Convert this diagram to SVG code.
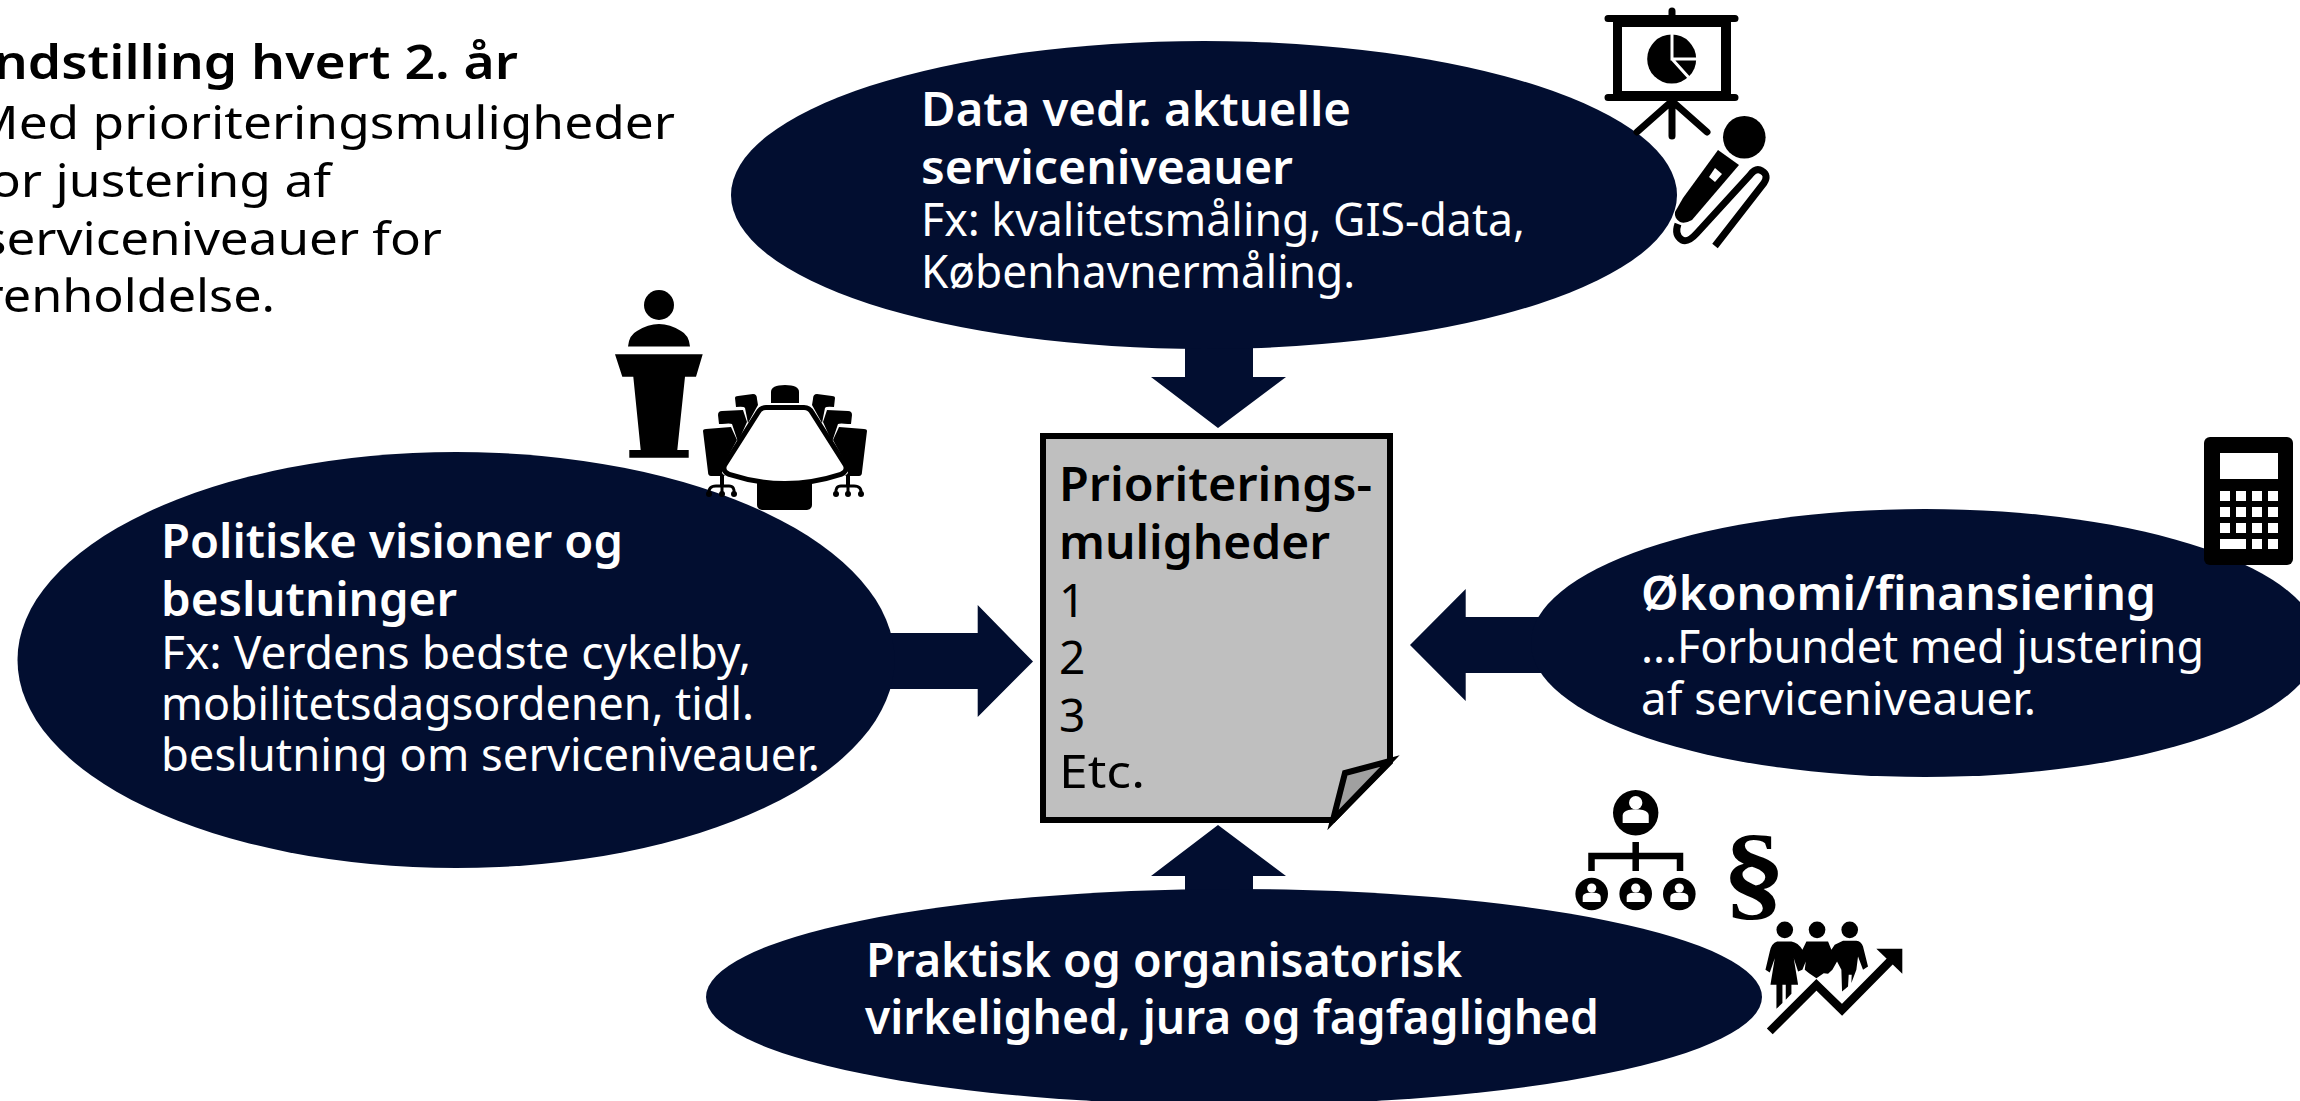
<svg xmlns="http://www.w3.org/2000/svg" xmlns:xlink="http://www.w3.org/1999/xlink" width="2300" height="1101" viewBox="0 0 2300 1101">
<style>
text{font-family:"Noto Sans","Lato","Liberation Sans",sans-serif;font-size:46px;font-weight:400;font-variant-ligatures:none}
.b{font-weight:600}
.w{fill:#fff}
.k{fill:#000}
.navy{fill:#020e30}
.ln{fill:none;stroke:#000;stroke-linecap:round}
</style>
<defs>
<g id="person"><circle cx="0" cy="-5" r="4.6" fill="#fff"/><path d="M-9 9V4Q-9 1-5 0Q0-1 5 0Q9 1 9 4V9Z" fill="#fff"/></g>
<g id="chairs">
<path d="M703 431Q703 429 706 429L731 427L737 440L725 462L722 473L725 476H711Q708 476 708 472Z"/>
<path d="M718 415Q718 411 722 411L743 410L747 422L738 442L732 424Q730 423 722 424L719 424Z"/>
<path d="M735 398Q735 396 738 396L753 394Q757 394 757 399L758 405L748 423L745 408Q744 406 736 407Z"/>
<path d="M722 475V486" stroke="#000" stroke-width="4" fill="none"/>
<path d="M709 494Q708 486 716 486H729Q735 486 734 494M722 486V494" stroke="#000" stroke-width="3" fill="none"/>
<circle cx="709" cy="494" r="3"/><circle cx="722" cy="494" r="3"/><circle cx="734" cy="494" r="3"/>
</g>
</defs>

<g id="connectors" class="navy">
<path d="M1185 345V377H1151L1218 428L1286 377H1253V345Z"/>
<path d="M880 633H977.700V605L1033 661.500L977.700 717V689H880Z"/>
<path d="M1550 617H1465.700V589L1410 645L1465.700 701V673H1550Z"/>
<path d="M1185 900V876H1151L1218 825L1286 876H1253V900Z"/>
</g>

<g id="node-recommendation">
<text class="b" x="-26" y="79" textLength="544" lengthAdjust="spacingAndGlyphs">Indstilling hvert 2. år</text>
<text x="-28" y="139" textLength="703" lengthAdjust="spacingAndGlyphs">Med prioriteringsmuligheder</text>
<text x="-28" y="197" textLength="359" lengthAdjust="spacingAndGlyphs">for justering af</text>
<text x="-18" y="255" textLength="460" lengthAdjust="spacingAndGlyphs">serviceniveauer for</text>
<text x="-17" y="312" textLength="292" lengthAdjust="spacingAndGlyphs">renholdelse.</text>
</g>

<g id="node-data">
<ellipse class="navy" cx="1204" cy="195" rx="473" ry="154"/>
<text class="w b" x="921" y="126" textLength="430" lengthAdjust="spacingAndGlyphs">Data vedr. aktuelle</text>
<text class="w b" x="921" y="184" textLength="372" lengthAdjust="spacingAndGlyphs">serviceniveauer</text>
<text class="w" x="921" y="235.500" textLength="604" lengthAdjust="spacingAndGlyphs">Fx: kvalitetsmåling, GIS-data,</text>
<text class="w" x="921" y="288" textLength="434" lengthAdjust="spacingAndGlyphs">Københavnermåling.</text>
<g id="icon-presentation">
<path class="ln" d="M1608 18.500H1735M1608 97.500H1735M1672 11V18M1672 100V136M1672 101L1637 132M1672 101L1707 132" stroke-width="7"/>
<path d="M1613 20H1731V96H1613ZM1622 27V91H1721V27Z" fill-rule="evenodd"/>
<circle cx="1671.700" cy="59" r="24.500"/>
<path d="M1672 33V59H1698M1672 59L1691 80" fill="none" stroke="#fff" stroke-width="3"/>
</g>
<g id="icon-microphone">
<circle cx="1744.300" cy="137.300" r="21.300"/>
<path d="M1718 150L1739 165L1692 220Q1685 224 1680 222Q1674 218 1675 212L1683 198Z"/>
<path d="M1715 168L1722 174L1715 182L1709 177Z" fill="#fff"/>
<path class="ln" style="stroke-linecap:butt" d="M1715 246L1764 183Q1769 175 1762 171Q1756 167 1750 175L1697 233Q1688 243 1682 240Q1674 235 1678 224" stroke-width="7"/>
</g>
</g>

<g id="node-politics">
<ellipse class="navy" cx="456" cy="660" rx="438.500" ry="208"/>
<text class="w b" x="161" y="558" textLength="462" lengthAdjust="spacingAndGlyphs">Politiske visioner og</text>
<text class="w b" x="161" y="616" textLength="296" lengthAdjust="spacingAndGlyphs">beslutninger</text>
<text class="w" x="161" y="669" textLength="590" lengthAdjust="spacingAndGlyphs">Fx: Verdens bedste cykelby,</text>
<text class="w" x="161" y="719.500" textLength="593" lengthAdjust="spacingAndGlyphs">mobilitetsdagsordenen, tidl.</text>
<text class="w" x="161" y="770.500" textLength="659" lengthAdjust="spacingAndGlyphs">beslutning om serviceniveauer.</text>
<g id="icon-lectern">
<circle cx="659" cy="305" r="15"/>
<path d="M628 346.500Q629 335 637 331Q648 324 659 324Q670 324 681 331Q689 335 690 346.500Z"/>
<path d="M615 354.300H702.700L696 376.700H685L677.300 450H688.700V457.700H629.300V450H640.700L633.300 376.700H622.300Z"/>
</g>
<g id="icon-table">
<path d="M771 392Q771 385 785 385Q799 385 799 392V403H771Z"/>
<use xlink:href="#chairs" href="#chairs"/>
<use xlink:href="#chairs" href="#chairs" transform="translate(1570,0) scale(-1,1)"/>
<path d="M757 480H812V505Q812 510 805 510H764Q757 510 757 505Z"/>
<path d="M766 410L804 410Q808 410 810 414L843 466Q845 470 840 472Q785 490 730 472Q725 470 727 466L760 414Q762 410 766 410Z" fill="#000" stroke="#000" stroke-width="10" stroke-linejoin="round"/>
<path d="M766 410L804 410Q808 410 810 414L843 466Q845 470 840 472Q785 490 730 472Q725 470 727 466L760 414Q762 410 766 410Z" fill="#fff"/>
</g>
</g>

<g id="node-economy">
<ellipse class="navy" cx="1925" cy="643" rx="394" ry="134"/>
<text class="w b" x="1641" y="610" textLength="515" lengthAdjust="spacingAndGlyphs">Økonomi/finansiering</text>
<text class="w" x="1641" y="663" textLength="563" lengthAdjust="spacingAndGlyphs">...Forbundet med justering</text>
<text class="w" x="1641" y="714.500" textLength="395" lengthAdjust="spacingAndGlyphs">af serviceniveauer.</text>
<g id="icon-calculator">
<rect x="2204" y="437" width="89" height="128" rx="6"/>
<g fill="#fff">
<rect x="2220" y="453" width="58" height="26"/>
<rect x="2220" y="491" width="10" height="10"/><rect x="2236" y="491" width="10" height="10"/><rect x="2252" y="491" width="10" height="10"/><rect x="2268" y="491" width="10" height="10"/>
<rect x="2220" y="507" width="10" height="10"/><rect x="2236" y="507" width="10" height="10"/><rect x="2252" y="507" width="10" height="10"/><rect x="2268" y="507" width="10" height="10"/>
<rect x="2220" y="523" width="10" height="10"/><rect x="2236" y="523" width="10" height="10"/><rect x="2252" y="523" width="10" height="10"/><rect x="2268" y="523" width="10" height="10"/>
<rect x="2220" y="539" width="26" height="10"/><rect x="2252" y="539" width="10" height="10"/><rect x="2268" y="539" width="10" height="10"/>
</g>
</g>
</g>

<g id="node-practical">
<ellipse class="navy" cx="1234" cy="997" rx="528" ry="108"/>
<text class="w b" x="866" y="977" textLength="596" lengthAdjust="spacingAndGlyphs">Praktisk og organisatorisk</text>
<text class="w b" x="865" y="1034" textLength="734" lengthAdjust="spacingAndGlyphs">virkelighed, jura og fagfaglighed</text>
<g id="icon-org">
<circle cx="1635.700" cy="812.700" r="22.700"/>
<use xlink:href="#person" href="#person" transform="translate(1635.700,810) scale(1.450)"/>
<path d="M1635.700 842V871M1591.500 871V856H1680V871" fill="none" stroke="#000" stroke-width="6.500"/>
<circle cx="1591.700" cy="894" r="16.300"/><circle cx="1635.700" cy="894" r="16.300"/><circle cx="1679.300" cy="894" r="16.300"/>
<use xlink:href="#person" href="#person" transform="translate(1591.700,893)"/>
<use xlink:href="#person" href="#person" transform="translate(1635.700,893)"/>
<use xlink:href="#person" href="#person" transform="translate(1679.300,893)"/>
</g>
<text id="icon-paragraph" x="1722" y="907" style="font-family:'Liberation Serif',serif;font-size:106px;font-weight:700" textLength="64" lengthAdjust="spacingAndGlyphs">§</text>
<g id="icon-people" transform="translate(1550,770) scale(0.333)">
<circle cx="705" cy="480" r="25"/><circle cx="802" cy="480" r="25"/><circle cx="900" cy="480" r="25"/>
<path d="M682 515Q665 520 660 545L647 600L660 608L675 565L662 645H680V717L698 700V645H708V690L725 672V645H745L732 565L745 605L758 600L768 575L765 600L778 610L800 625L822 610L835 612L848 600L862 575L875 600L877 665L895 650L897 615H906L905 640L920 600L925 560L940 600L955 590L940 530Q935 515 920 513H880L855 525L845 540L835 515H770L758 540Q745 518 725 515Z"/>
<path d="M660 785L800 645L877 720L1035 560" fill="none" stroke="#000" stroke-width="25"/>
<path d="M980 537H1058V612Z"/>
</g>
</g>

<g id="node-options">
<path d="M1043 436H1390V762L1333 820H1043Z" fill="#bfbfbf" stroke="#000" stroke-width="6"/>
<path d="M1333 820L1345 773L1390 761Z" fill="#a0a0a0" stroke="#000" stroke-width="6" stroke-linejoin="miter"/>
<text class="b k" x="1059" y="501" textLength="313" lengthAdjust="spacingAndGlyphs">Prioriterings-</text>
<text class="b k" x="1059" y="559" textLength="271" lengthAdjust="spacingAndGlyphs">muligheder</text>
<text class="k" x="1059" y="617">1</text>
<text class="k" x="1059" y="674">2</text>
<text class="k" x="1059" y="732">3</text>
<text class="k" x="1059" y="788" textLength="86" lengthAdjust="spacingAndGlyphs">Etc.</text>
</g>
</svg>
